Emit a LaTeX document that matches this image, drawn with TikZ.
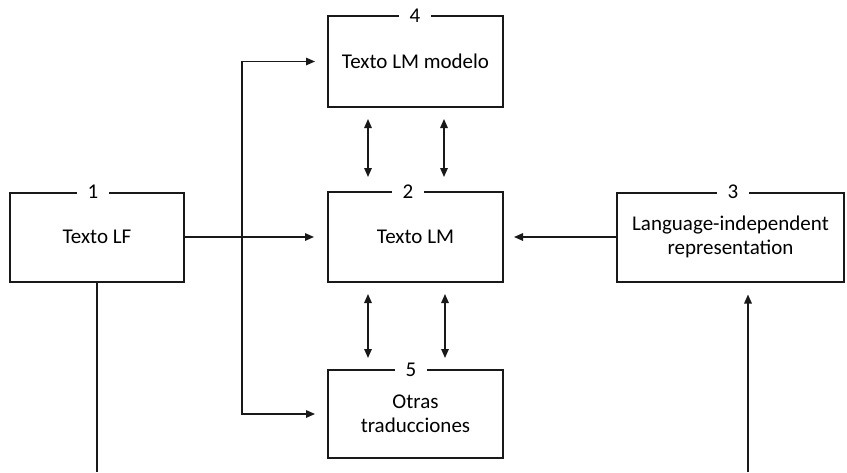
\documentclass[tikz,border=0pt]{standalone}
\usepackage{fontspec}
\setmainfont{Carlito}
\usetikzlibrary{arrows.meta,calc}
\begin{document}
\begin{tikzpicture}[x=1pt,y=-1pt,
  box/.style={draw=black!90, line width=2pt, align=center, inner sep=0pt,
    font=\fontsize{21}{23.5}\selectfont},
  numlabel/.style={fill=white, inner xsep=11pt, inner ysep=1pt,
    font=\fontsize{21}{23.5}\selectfont},
  conn/.style={draw=black!90, line width=1.5pt},
  arr/.style={conn, -{Triangle[length=9pt,width=7.5pt]}},
  dbl/.style={conn, {Triangle[length=9pt,width=7.5pt]}-{Triangle[length=9pt,width=7.5pt]}}
]
\useasboundingbox (0,0) rectangle (847,472);
% boxes
\node[box, minimum width=174pt, minimum height=89pt] (b1) at (97,237) {Texto LF};
\node[box, minimum width=175pt, minimum height=91pt] (b4) at (415.5,61.5) {Texto LM modelo};
\node[box, minimum width=175pt, minimum height=90pt] (b2) at (415.5,237) {Texto LM};
\node[box, minimum width=227pt, minimum height=89pt] (b3) at (730.5,237) {Language-independent\\representation};
\node[box, minimum width=175pt, minimum height=88pt] (b5) at (415.5,414) {Otras\\traducciones};
% number labels
\node[numlabel] (n1) at (93,192) {1};
\node[numlabel] (n4) at (415,16) {4};
\node[numlabel] (n2) at (408,192) {2};
\node[numlabel] (n3) at (733,192) {3};
\node[numlabel] (n5) at (411,370) {5};
% connectors
\coordinate (jm) at (242,237);
\coordinate (e1) at (97,472);
\coordinate (e3) at (748,472);
\draw[arr, shorten >=13pt] (b1.east) -- (b2.west);
\draw[arr, shorten >=12pt] (jm) |- (b4.west);
\draw[arr, shorten >=12pt] (jm) |- (b5.west);
\draw[arr, shorten >=10pt] (b3.west) -- (b2.east);
\draw[dbl, shorten <=11pt, shorten >=14pt] ([xshift=-47.5pt]b4.south) -- ([xshift=-47.5pt]b2.north);
\draw[dbl, shorten <=11pt, shorten >=14pt] ([xshift=28.5pt]b4.south) -- ([xshift=28.5pt]b2.north);
\draw[dbl, shorten <=11pt, shorten >=11pt] ([xshift=-47.5pt]b2.south) -- ([xshift=-47.5pt]b5.north);
\draw[dbl, shorten <=11pt, shorten >=11pt] ([xshift=29.5pt]b2.south) -- ([xshift=29.5pt]b5.north);
\draw[conn] (b1.south) -- (e1);
\draw[arr, shorten >=12pt] (e3) -- (e3 |- b3.south);
\end{tikzpicture}
\end{document}
